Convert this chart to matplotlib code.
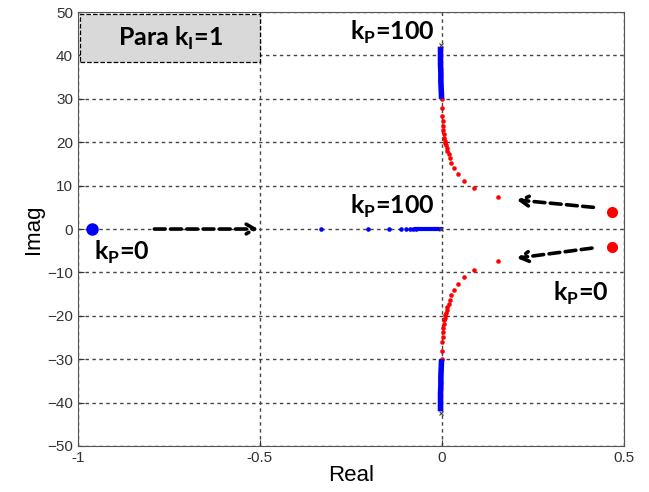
import numpy as np
import matplotlib
matplotlib.use("Agg")
import matplotlib.pyplot as plt
from matplotlib.patches import Rectangle

# open-loop poles (kP = 0)
p0_real = [-0.96]
p0_cplx_re = [0.467, 0.467]
p0_cplx_im = [3.9, -4.1]

# red branch (complex pair moving toward imaginary axis), upper half
red_re = [0.154, 0.088, 0.060, 0.045, 0.034, 0.026, 0.021, 0.018, 0.015, 0.013,
          0.011, 0.009, 0.007, 0.006, 0.005, 0.004, 0.003, 0.002, 0.001, 0.0, -0.001]
red_im = [7.4, 9.4, 11.0, 12.7, 14.0, 15.2, 16.4, 17.3, 18.0, 18.7,
          19.3, 19.8, 20.4, 21.0, 22.0, 22.8, 23.8, 24.8, 26.0, 28.0, 30.0]

# blue branch (close to imaginary axis, up to kP = 100), upper half
blue_re = [-0.001, -0.002, -0.003, -0.003, -0.004, -0.004, -0.004]
blue_im = [30.0, 32.0, 34.0, 36.0, 38.0, 40.0, 42.0]

# real-axis branch
axis_re = [-0.333, -0.203, -0.145, -0.112, -0.099, -0.088, -0.079, -0.070,
           -0.060, -0.050, -0.040, -0.030, -0.020, -0.010, -0.003]
end_x = [-0.003, -0.003, -0.003]
end_y = [42.5, -42.5, 0.0]

plt.rcParams["font.family"] = ["Liberation Sans Narrow", "Liberation Sans", "DejaVu Sans"]

fig = plt.figure(figsize=(6.49, 4.92), dpi=100)
ax = fig.add_axes([0.120, 0.0935, 0.8415, 0.882])

red, blue = "#ff0000", "#0000ff"
for s in (1, -1):
    ax.plot(red_re, s * np.array(red_im), "o", color=red, ms=3.3, mec="none")
    ax.plot(blue_re, s * np.array(blue_im), "-", color=blue, lw=4, solid_capstyle="butt")
ax.plot(axis_re[:8], [0] * 8, "o", color=blue, ms=3.3, mec="none")
ax.plot(axis_re[7:], [0] * len(axis_re[7:]), "-", color=blue, lw=3)
ax.plot(p0_real, [0], "o", color=blue, ms=9, mec="none")
ax.plot(p0_cplx_re, p0_cplx_im, "o", color=red, ms=8, mec="none")
ax.plot(end_x, end_y, "x", color="#444444", ms=3.5, mew=0.8)

ax.set_xlim(-1, 0.5)
ax.set_ylim(-50, 50)
ax.set_xticks([-1, -0.5, 0, 0.5])
ax.set_xticklabels(["-1", "-0.5", "0", "0.5"])
ax.set_yticks(np.arange(-50, 51, 10))
ax.grid(True, color="#444444", ls=(0, (2.5, 2.5)), lw=1.0)
ax.tick_params(direction="in", length=4, labelsize=11, colors="#333333",
               labelcolor="#333333")
for sp in ax.spines.values():
    sp.set_color("#555555")
ax.set_xlabel("Real", fontsize=16, labelpad=0)
ax.set_ylabel("Imag", fontsize=16, labelpad=2)

bold = dict(fontsize=18, fontweight="bold", family=["Lato", "DejaVu Sans"], color="black")
ax.add_patch(Rectangle((-0.995, 38.6), 0.495, 10.9, fc="#d9d9d9", ec="black",
                       ls="--", lw=0.9, zorder=3))
ax.text(-0.745, 44, r"Para k$_\mathregular{I}$=1", ha="center", va="center",
        zorder=4, **bold)
ax.text(-0.02, 45.3, r"k$_\mathregular{P}$=100", ha="right", va="center", **bold)
ax.text(-0.02, 5.1, r"k$_\mathregular{P}$=100", ha="right", va="center", **bold)
ax.text(-0.955, -5.5, r"k$_\mathregular{P}$=0", ha="left", va="center", **bold)
ax.text(0.305, -14.8, r"k$_\mathregular{P}$=0", ha="left", va="center", **bold)

arrow = dict(arrowstyle="->,head_length=0.6,head_width=0.35", color="black", lw=2.6,
             ls=(0, (3, 1.5)), shrinkA=0, shrinkB=0)
ax.annotate("", xy=(-0.505, 0), xytext=(-0.79, 0), arrowprops=arrow)
ax.annotate("", xy=(0.206, 6.7), xytext=(0.416, 5.0), arrowprops=arrow)
ax.annotate("", xy=(0.206, -6.7), xytext=(0.412, -4.4), arrowprops=arrow)

fig.savefig("out.png", dpi=100)
